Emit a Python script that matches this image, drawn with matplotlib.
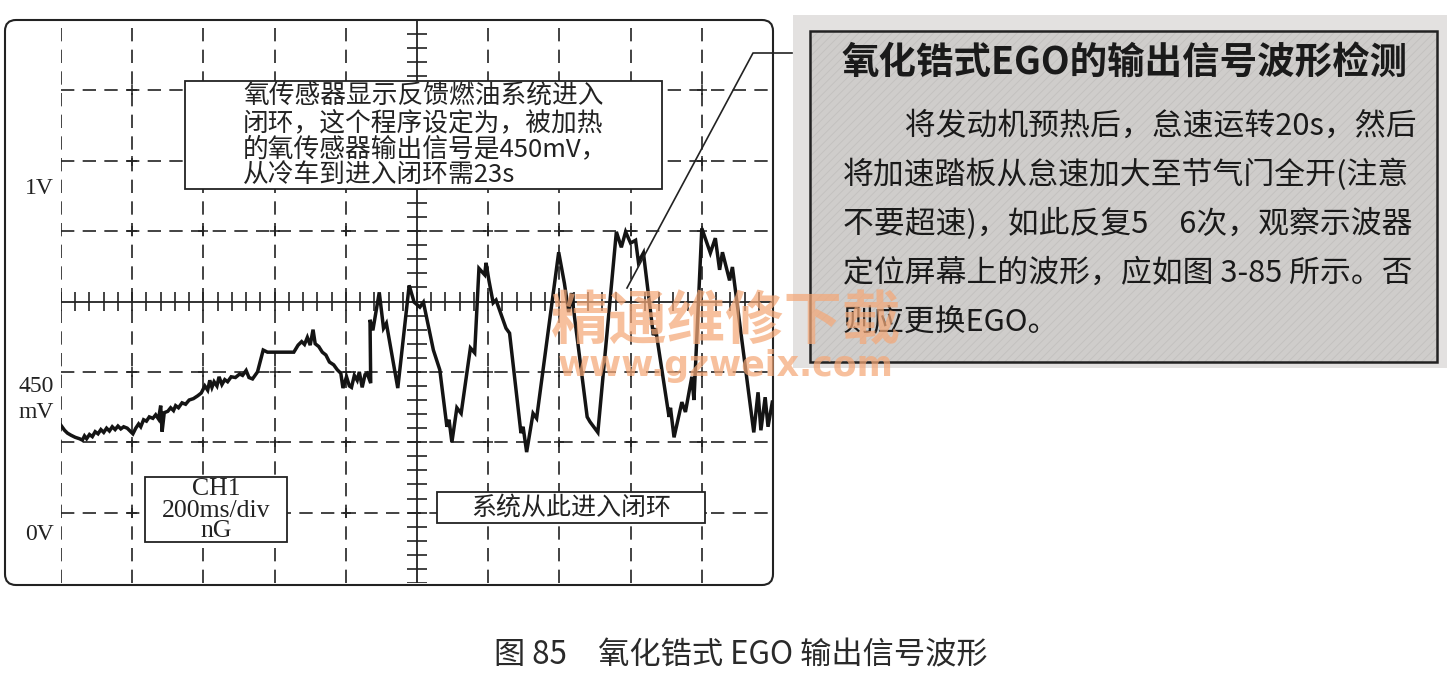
import numpy as np
import matplotlib
matplotlib.use('Agg')
import matplotlib.pyplot as plt
from matplotlib.patches import Rectangle, FancyBboxPatch

plt.rcParams['font.family'] = ['Noto Sans CJK SC', 'DejaVu Sans']
plt.rcParams['hatch.linewidth'] = 0.6

W, H = 1452, 673

# oscilloscope trace, in divisions (x: 200 ms/div, y: volt divs from bottom)
trace_t = [0.00, 0.05, 0.09, 0.14, 0.20, 0.26, 0.30, 0.33, 0.36, 0.40, 0.44, 0.48, 0.52, 0.56,
           0.60, 0.64, 0.68, 0.72, 0.76, 0.80, 0.84, 0.88, 0.93, 0.97, 1.01, 1.05, 1.09, 1.12,
           1.16, 1.20, 1.24, 1.29, 1.33, 1.37, 1.40, 1.42, 1.45, 1.50, 1.54, 1.58, 1.61, 1.65,
           1.70, 1.75, 1.80, 1.86, 1.92, 1.97, 2.02, 2.06, 2.09, 2.12, 2.15, 2.19, 2.22, 2.26,
           2.30, 2.34, 2.39, 2.45, 2.51, 2.55, 2.60, 2.64, 2.69, 2.76, 2.84, 2.90, 3.27, 3.33,
           3.38, 3.42, 3.46, 3.50, 3.54, 3.57, 3.62, 3.67, 3.72, 3.77, 3.83, 3.88, 3.93, 3.96,
           4.01, 4.05, 4.08, 4.12, 4.16, 4.19, 4.23, 4.27, 4.30, 4.35, 4.34, 4.38, 4.47, 4.53,
           4.57, 4.73, 4.77, 4.89, 4.96, 5.04, 5.09, 5.23, 5.32, 5.42, 5.45, 5.49, 5.56, 5.62,
           5.75, 5.81, 5.87, 5.95, 5.97, 6.01, 6.07, 6.11, 6.25, 6.30, 6.46, 6.49, 6.54, 6.63,
           6.68, 6.99, 7.07, 7.13, 7.17, 7.39, 7.43, 7.54, 7.80, 7.87, 7.93, 8.00, 8.07, 8.11,
           8.18, 8.32, 8.35, 8.54, 8.56, 8.61, 8.72, 8.77, 8.86, 8.89, 9.00, 9.12, 9.19, 9.25,
           9.29, 9.39, 9.43, 9.73, 9.79, 9.83, 9.89, 9.93, 9.99]
trace_v = [2.24, 2.17, 2.13, 2.10, 2.07, 2.05, 2.03, 2.09, 2.05, 2.11, 2.08, 2.15, 2.12, 2.18,
           2.14, 2.20, 2.16, 2.22, 2.18, 2.23, 2.19, 2.22, 2.20, 2.16, 2.12, 2.20, 2.26, 2.22,
           2.32, 2.30, 2.36, 2.34, 2.39, 2.33, 2.52, 2.15, 2.42, 2.44, 2.49, 2.45, 2.52, 2.49,
           2.56, 2.54, 2.60, 2.62, 2.66, 2.70, 2.80, 2.74, 2.88, 2.78, 2.86, 2.80, 2.93, 2.82,
           2.89, 2.86, 2.93, 2.92, 2.97, 2.95, 3.02, 2.92, 2.90, 3.00, 3.31, 3.28, 3.28, 3.38,
           3.43, 3.39, 3.49, 3.38, 3.60, 3.40, 3.36, 3.28, 3.24, 3.14, 3.10, 3.03, 2.98, 2.77,
           2.93, 2.80, 2.78, 2.95, 2.88, 3.00, 2.78, 2.96, 2.98, 2.84, 3.74, 3.59, 4.13, 3.62,
           3.69, 2.77, 3.13, 4.23, 3.99, 3.92, 3.99, 3.31, 3.03, 2.22, 2.32, 2.00, 2.49, 2.41,
           3.34, 3.27, 4.47, 4.38, 4.55, 4.30, 3.98, 4.02, 3.62, 3.55, 2.13, 2.22, 1.86, 2.41,
           2.34, 4.70, 4.26, 3.85, 4.12, 2.36, 2.29, 2.14, 4.99, 4.77, 4.99, 4.83, 4.87, 4.56,
           4.69, 3.52, 3.62, 2.36, 2.49, 2.07, 2.57, 2.43, 2.93, 2.60, 5.04, 4.69, 4.90, 4.45,
           4.70, 4.30, 4.49, 2.14, 2.71, 2.17, 2.64, 2.22, 2.57]

volt_labels = ['1V', '450', 'mV', '0V']
note_lines = ['氧传感器显示反馈燃油系统进入',
              '闭环，这个程序设定为，被加热',
              '的氧传感器输出信号是450mV，',
              '从冷车到进入闭环需23s']
channel_lines = ['CH1', '200ms/div', 'nG']
loop_label = '系统从此进入闭环'
panel_title = '氧化锆式EGO的输出信号波形检测'
panel_lines = ['\u3000\u3000将发动机预热后，怠速运转20s，然后',
               '将加速踏板从怠速加大至节气门全开(注意',
               '不要超速)，如此反复5\u30006次，观察示波器',
               '定位屏幕上的波形，应如图 3-85 所示。否',
               '则应更换EGO。']
caption = '图 85\u3000氧化锆式 EGO 输出信号波形'
watermark = ['精通维修下载', 'www.gzweix.com']

ink = '#222222'
serif = ['Liberation Serif', 'DejaVu Serif']

fig = plt.figure(figsize=(W / 100, H / 100), dpi=100)


def overlay(z):
    # full-figure axes in pixel units, y pointing down
    o = fig.add_axes([0, 0, 1, 1])
    o.set_xlim(0, W)
    o.set_ylim(H, 0)
    o.axis('off')
    o.set_zorder(z)
    return o


bg = overlay(0)
ax = fig.add_axes([61 / W, (H - 583) / H, 712 / W, 563 / H])
ax.set_zorder(1)
fg = overlay(2)

# screen frame
bg.add_patch(FancyBboxPatch((5, 20), 768, 565, boxstyle='round,pad=0,rounding_size=11',
                            fill=False, ec=ink, lw=1.5))

# grid
ax.set_xlim(0, 10)
ax.set_ylim(0, 8)
ax.axis('off')
dash = (0, (8, 5))
for gx in range(10):
    if gx != 5:
        ax.axvline(gx, ls=dash, lw=1.2, color=ink)
for gy in range(1, 8):
    if gy != 4:
        ax.axhline(gy, ls=dash, lw=1.2, color=ink)
ax.axvline(5, lw=1.3, color=ink)
ax.axhline(4, lw=1.3, color=ink)
ax.vlines(np.arange(0, 10.01, 0.2), 4 - 0.13, 4 + 0.13, lw=1.2, color=ink)
ax.hlines(np.arange(0, 8.01, 0.2), 5 - 0.14, 5 + 0.14, lw=1.2, color=ink)
for gx in [1, 2, 3, 4, 6, 7, 8, 9]:
    for gy in [1, 2, 3, 5, 6, 7]:
        ax.plot(gx, gy, '+', ms=7, mew=1.1, color=ink)

ax.plot(trace_t, trace_v, color='#141414', lw=2.5, solid_joinstyle='miter')

# left voltage labels
for txt, yy in zip(volt_labels, [189, 387, 412, 535]):
    bg.text(54, yy, txt, ha='right', va='center', fontsize=17, family=serif, color=ink)

# note box, top left
fg.add_patch(Rectangle((185, 81), 477, 108, fc='white', ec=ink, lw=1.3))
for i, line in enumerate(note_lines):
    fg.text(243, 97 + 26 * i, line, ha='left', va='center', fontsize=18.5, color=ink)

# channel box
fg.add_patch(Rectangle((145, 477), 142, 65, fc='white', ec=ink, lw=1.3))
for line, yy in zip(channel_lines, [489, 511, 531]):
    fg.text(216, yy, line, ha='center', va='center', fontsize=18.5, family=serif, color=ink)

# closed-loop box
fg.add_patch(Rectangle((437, 492), 268, 31, fc='white', ec=ink, lw=1.3))
fg.text(571, 508, loop_label, ha='center', va='center', fontsize=18, color=ink)

# grey side panel
bg.add_patch(Rectangle((793, 15), 654, 353, fc='#e3e1e0', ec='none'))
bg.add_patch(Rectangle((810, 31), 627, 331, fc='#cfcdcb', ec='#c2c0be', lw=0, hatch='////'))
bg.add_patch(Rectangle((810, 31), 627, 331, fill=False, ec=ink, lw=1.8))
bg.text(1125, 62, panel_title, ha='center', va='center', fontsize=27, fontweight='bold', color='#1a1a1a')
for i, line in enumerate(panel_lines):
    bg.text(843, 126 + 49 * i, line, ha='left', va='center', fontsize=22.2, color='#1a1a1a')

# callout from panel to the trace
fg.plot([627, 753, 792], [288, 53, 53], color=ink, lw=1.2)

# watermark (sits over the panel's last line as in the scan)
fg.text(726, 322, watermark[0], ha='center', va='center', fontsize=42, fontweight='bold',
        color='#f4a878', alpha=0.72)
fg.text(726, 366, watermark[1], ha='center', va='center', fontsize=25, fontweight='bold',
        family=['DejaVu Sans'], color='#f4a878', alpha=0.72)

# caption
bg.text(741, 655, caption, ha='center', va='center', fontsize=22.5, color='#2a2a2a')

fig.savefig('out.png', dpi=100)
